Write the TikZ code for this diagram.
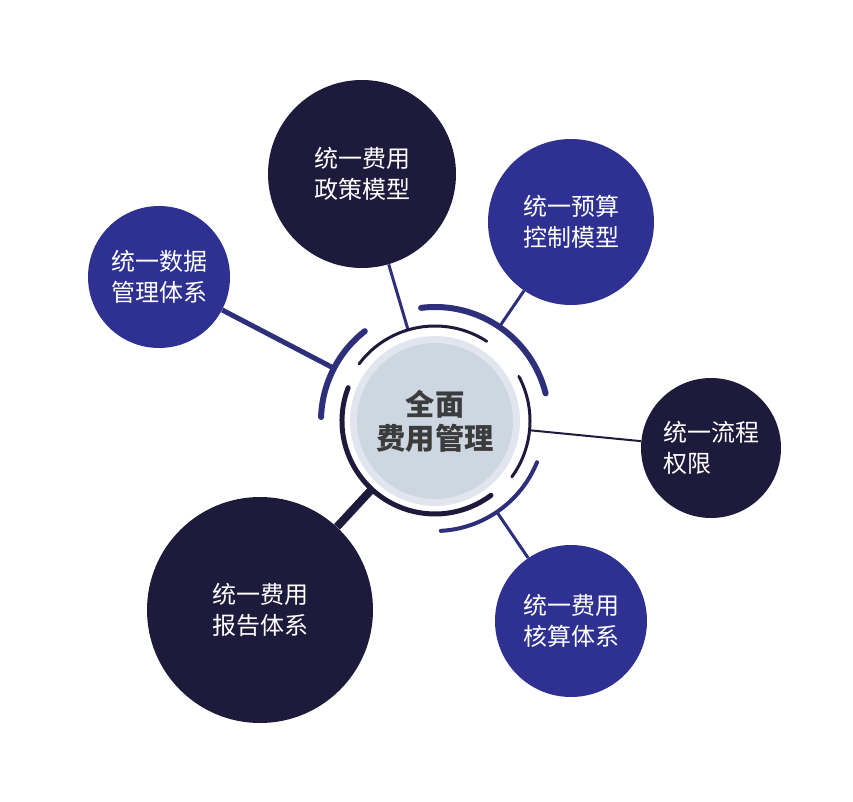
\documentclass[tikz,border=0pt]{standalone}
\usepackage{fontspec}
\setmainfont{Noto Sans CJK SC}
\usetikzlibrary{calc}
\definecolor{navy}{HTML}{1E1A3C}
\definecolor{royal}{HTML}{2E3192}
\definecolor{ringblue}{HTML}{2D2F7A}
\definecolor{coreface}{HTML}{CDD7E1}
\definecolor{coreedge}{HTML}{E1E6EE}
\definecolor{coretext}{HTML}{3C3C3C}

\begin{document}
\begin{tikzpicture}
  [x=.75pt,y=-.75pt,
   every node/.style={circle,text=white,inner sep=0pt,align=left,font=\fontsize{18}{23}\selectfont},
   darkdisc/.style={fill=navy},
   bluedisc/.style={fill=royal},
   ring/.style={line cap=round}]
  \useasboundingbox (0,0) rectangle (853,802);

  \node[darkdisc,minimum size=141pt] (policy) at (362,174) {统一费用\\政策模型};
  \node[bluedisc,minimum size=124.5pt] (budget) at (571,222) {统一预算\\控制模型};
  \node[bluedisc,minimum size=106.5pt] (data) at (159,277) {统一数据\\管理体系};
  \node[darkdisc,minimum size=105pt] (flow) at (711,448) {统一流程\\权限};
  \node[darkdisc,minimum size=169.5pt] (report) at (260,610) {统一费用\\报告体系};
  \node[bluedisc,minimum size=114pt] (account) at (571,621) {统一费用\\核算体系};

  \node[fill=coreface,draw=coreedge,line width=5.25pt,minimum size=122.25pt,text=coretext,
        align=center,font=\fontsize{22}{25.5}\selectfont\bfseries] (core) at (435,421) {全面\\费用管理};

  \draw[ringblue,line width=2.25pt] (policy) -- ($(core)!71.25pt!(policy)$);
  \draw[ringblue,line width=2.25pt] (budget) -- ($(core)!85.5pt!(budget)$);
  \draw[ringblue,line width=3.75pt] (data) -- ($(core)!85.5pt!(data)$);
  \draw[navy,line width=1.5pt] (flow) -- ($(core)!71.25pt!(flow)$);
  \draw[navy,line width=6pt] (report) -- ($(core)!69.75pt!(report)$);
  \draw[ringblue,line width=2.25pt] (account) -- ($(core)!82.5pt!(account)$);

  % inner ring
  \draw[ring,navy,line width=2.25pt] ($(core)+(-57:95)$) arc[start angle=-57,end angle=-143,radius=95];
  \draw[ring,navy,line width=3.75pt] ($(core)+(-159:93)$) arc[start angle=-159,end angle=-307,radius=93];
  \draw[ring,navy,line width=2.25pt] ($(core)+(36:95)$) arc[start angle=36,end angle=-28,radius=95];

  % outer ring
  \draw[ring,ringblue,line width=4.5pt] ($(core)+(-14:114)$) arc[start angle=-14,end angle=-97,radius=114];
  \draw[ring,ringblue,line width=4.5pt] ($(core)+(-128:114)$) arc[start angle=-128,end angle=-178,radius=114];
  \draw[ring,ringblue,line width=3pt] ($(core)+(87:110)$) arc[start angle=87,end angle=22,radius=110];

\end{tikzpicture}
\end{document}
